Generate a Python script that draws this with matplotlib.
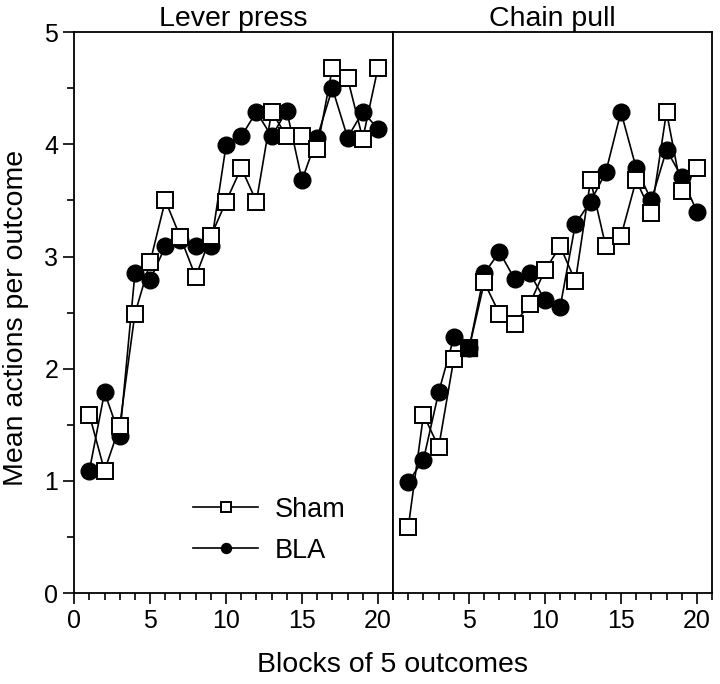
import matplotlib
matplotlib.use('Agg')
import matplotlib.pyplot as plt
from matplotlib.ticker import MultipleLocator

plt.rcParams['font.family'] = ['Liberation Sans', 'DejaVu Sans']

# block numbers
blocks = list(range(1, 21))

# Lever press
sham_lever = [1.59, 1.09, 1.49, 2.49, 2.95, 3.50, 3.17, 2.82, 3.18, 3.49,
              3.79, 3.49, 4.29, 4.07, 4.07, 3.96, 4.68, 4.59, 4.05, 4.68]
bla_lever = [1.09, 1.79, 1.40, 2.85, 2.79, 3.09, 3.15, 3.09, 3.09, 3.99,
             4.07, 4.29, 4.07, 4.30, 3.68, 4.06, 4.50, 4.06, 4.29, 4.14]

# Chain pull
sham_chain = [0.59, 1.59, 1.30, 2.09, 2.18, 2.77, 2.49, 2.40, 2.58, 2.88,
              3.09, 2.78, 3.68, 3.09, 3.18, 3.68, 3.39, 4.29, 3.58, 3.79]
bla_chain = [0.99, 1.19, 1.79, 2.28, 2.18, 2.85, 3.04, 2.80, 2.85, 2.61,
             2.55, 3.29, 3.49, 3.75, 4.29, 3.79, 3.50, 3.95, 3.71, 3.40]

titles = ['Lever press', 'Chain pull']

fig, (ax1, ax2) = plt.subplots(1, 2, sharey=True, figsize=(7.2, 6.84), dpi=100)
fig.subplots_adjust(left=0.103, right=0.989, bottom=0.133, top=0.953, wspace=0)

panels = [(ax1, sham_lever, bla_lever), (ax2, sham_chain, bla_chain)]
for i, (ax, sham, bla) in enumerate(panels):
    ax.plot(blocks, bla, '-o', color='black', lw=1.2, ms=12,
            mfc='black', mec='black', label='BLA', zorder=3)
    ax.plot(blocks, sham, '-s', color='black', lw=1.2, ms=11,
            mfc='white', mec='black', mew=1.4, label='Sham', zorder=4)
    ax.set_xlim(0, 21)
    ax.set_ylim(0, 5)
    ax.xaxis.set_major_locator(MultipleLocator(5))
    ax.xaxis.set_minor_locator(MultipleLocator(1))
    ax.yaxis.set_major_locator(MultipleLocator(1))
    ax.yaxis.set_minor_locator(MultipleLocator(0.5))
    ax.tick_params(which='both', direction='out', labelsize=18, width=1.2)
    ax.tick_params(which='major', length=8)
    ax.tick_params(which='minor', length=5)
    ax.set_title(titles[i], fontsize=20.5, pad=4)
    for sp in ax.spines.values():
        sp.set_linewidth(1.3)

# filled square where both chain-pull series coincide at block 5
ax2.plot(blocks[4], sham_chain[4], 's', ms=11, mfc='black', mec='black', zorder=5)

ax2.set_xticks([5, 10, 15, 20])
ax2.tick_params(axis='y', which='both', left=False)

ax1.set_ylabel('Mean actions per outcome', fontsize=20.5)
ax1.yaxis.set_label_coords(-0.143, 0.49)
fig.text(0.545, 0.017, 'Blocks of 5 outcomes', ha='center', va='baseline', fontsize=20.5)

handles, labels = ax1.get_legend_handles_labels()
ax1.legend(handles[::-1], labels[::-1], loc='center left', bbox_to_anchor=(0.373, 0.112),
           frameon=False, fontsize=19.5, markerscale=0.6, handlelength=2.4,
           handletextpad=0.6, labelspacing=0.55, borderpad=0, borderaxespad=0)

fig.savefig('out.png', dpi=100)
